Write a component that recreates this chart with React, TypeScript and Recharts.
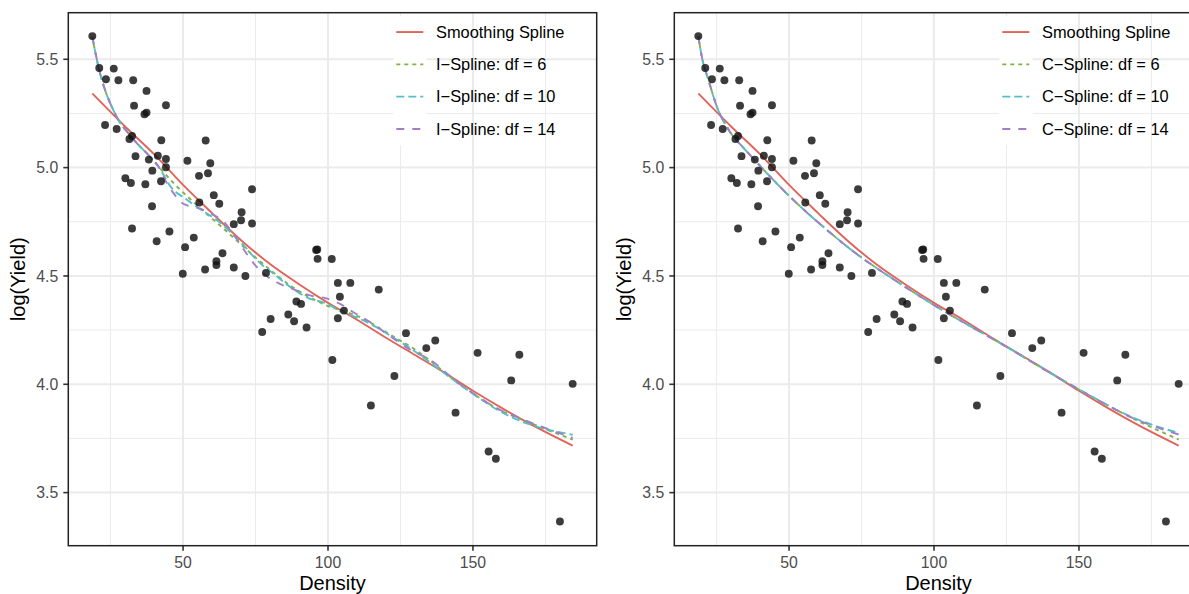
import React from 'react';
import { ComposedChart, Scatter, Line, XAxis, YAxis, ReferenceLine } from 'recharts';

// ---- observed data (Density, log(Yield)) ----
const densityValues = [
  18.7, 21.1, 26.1, 23.4, 27.7, 32.8, 37.4, 33.1, 44.1, 36.7, 37.4, 23.1, 27.1, 31.5, 32.4, 42.5, 57.8,
  33.6, 41.3, 38.2, 44.1, 44.1, 51.5, 59.4, 39.4, 55.5, 58.6, 30.1, 32.0, 37.0, 42.4, 73.8, 60.6, 62.5,
  55.6, 39.3, 70.2, 70.0, 67.5, 73.8, 32.4, 45.3, 40.9, 53.7, 50.7, 63.6, 61.5, 61.5, 67.5, 71.5, 49.9,
  57.6, 78.6, 95.9, 96.3, 96.4, 101.3, 103.4, 107.7, 104.1, 89.1, 90.7, 105.5, 103.4, 86.3, 88.3, 80.2,
  92.6, 77.3, 101.5, 117.5, 126.9, 133.9, 137.0, 122.9, 114.8, 151.6, 166.0, 163.2, 184.4, 144.0, 155.4,
  157.9, 180.0,
];
const logYieldValues = [
  5.607, 5.46, 5.457, 5.408, 5.403, 5.403, 5.354, 5.286, 5.288, 5.246, 5.254, 5.197, 5.178, 5.132, 5.146,
  5.126, 5.125, 5.053, 5.055, 5.037, 5.04, 5.002, 5.032, 5.02, 4.986, 4.962, 4.974, 4.951, 4.929, 4.923,
  4.937, 4.9, 4.873, 4.833, 4.839, 4.822, 4.794, 4.757, 4.739, 4.742, 4.719, 4.705, 4.66, 4.677, 4.633,
  4.605, 4.568, 4.55, 4.539, 4.5, 4.51, 4.53, 4.514, 4.62, 4.622, 4.579, 4.578, 4.468, 4.468, 4.404,
  4.382, 4.371, 4.34, 4.305, 4.322, 4.291, 4.301, 4.262, 4.241, 4.112, 4.437, 4.236, 4.167, 4.202, 4.038,
  3.902, 4.145, 4.136, 4.018, 4.002, 3.869, 3.69, 3.656, 3.367,
];

// ---- smoothing spline (both panels) ----
const smoothX = [18.7, 30, 40, 50, 60, 70, 80, 90, 100, 110, 120, 130, 140, 150, 160, 170, 184.4];
const smoothY = [5.342, 5.19, 5.062, 4.92, 4.79, 4.665, 4.555, 4.462, 4.376, 4.298, 4.215, 4.135, 4.055, 3.97, 3.89, 3.815, 3.717];

// ---- I-splines (left panel) ----
const iHeadX = [18.7, 20.8, 23.1, 25.4, 27.7, 31.1, 34.6, 38.0, 41.5];
const iHeadY = [5.604, 5.466, 5.358, 5.281, 5.22, 5.159, 5.105, 5.059, 5.005];
const iSpline6X = [47, 54, 64.5, 76, 87.5, 99, 110.5, 122, 130.6, 145.5, 158.1, 171.9, 184.4];
const iSpline6Y = [4.925, 4.836, 4.712, 4.574, 4.451, 4.367, 4.313, 4.225, 4.155, 4.0, 3.89, 3.81, 3.745];
const iSpline10X = [46.1, 50.7, 55.9, 62.2, 70.2, 76, 81.7, 87.5, 93.2, 99, 104.7, 110.5, 116.2, 122, 128.3, 136.3, 145.5, 151.3, 158.1, 165, 171.9, 184.4];
const iSpline10Y = [4.905, 4.858, 4.808, 4.752, 4.651, 4.566, 4.505, 4.444, 4.398, 4.375, 4.336, 4.305, 4.267, 4.22, 4.167, 4.09, 3.998, 3.944, 3.885, 3.838, 3.805, 3.767];
const iSpline14X = [43.8, 46.7, 50.1, 55.3, 60.4, 64.5, 67.9, 71.4, 74.8, 78.3, 82.9, 88.6, 94.4, 99, 103.6, 109.3, 115.1, 120.8, 128.3, 135.2, 145.5, 151.3, 158.1, 165, 176.6, 184.4];
const iSpline14Y = [4.943, 4.882, 4.833, 4.813, 4.782, 4.744, 4.682, 4.613, 4.551, 4.505, 4.467, 4.436, 4.408, 4.398, 4.375, 4.328, 4.282, 4.228, 4.16, 4.113, 4.0, 3.948, 3.89, 3.85, 3.79, 3.752];

// ---- C-splines (right panel) ----
const cSplineX = [18.7, 19.9, 22.2, 25.1, 29.2, 34.9, 39.7, 50.3, 63.0, 74.5, 86, 99.8, 122.8, 150, 168.7, 184.4];
const cSpline6Y = [5.607, 5.512, 5.405, 5.281, 5.174, 5.082, 5.012, 4.866, 4.713, 4.59, 4.485, 4.367, 4.19, 3.975, 3.842, 3.745];
const cSpline10Y = [5.607, 5.512, 5.405, 5.281, 5.174, 5.082, 5.012, 4.866, 4.713, 4.59, 4.485, 4.367, 4.19, 3.977, 3.846, 3.775];
const cSpline14Y = [5.607, 5.512, 5.405, 5.281, 5.174, 5.082, 5.012, 4.866, 4.713, 4.59, 4.485, 4.367, 4.19, 3.976, 3.844, 3.768];

// ---- axes ----
const xTicks = [50, 100, 150];
const xMinorTicks = [25, 75, 125, 175];
const yTicks = [3.5, 4.0, 4.5, 5.0, 5.5];
const yMinorTicks = [3.75, 4.25, 4.75, 5.25];
const xDomain: [number, number] = [10.415, 192.685];
const yDomain: [number, number] = [3.255, 5.715];

const leftLegend = ['Smoothing Spline', 'I\u2212Spline: df = 6', 'I\u2212Spline: df = 10', 'I\u2212Spline: df = 14'];
const rightLegend = ['Smoothing Spline', 'C\u2212Spline: df = 6', 'C\u2212Spline: df = 10', 'C\u2212Spline: df = 14'];

const COLORS = ['#E0645A', '#84B044', '#55BEC6', '#9F80C6'];
const DASHES = ['', '4 4', '8 4', '8 8'];

const FONT = '"Liberation Sans", Arial, Helvetica, sans-serif';
const W = 600;
const H = 594;
const PL = 68.3;
const PT = 12.7;
const PR = 596.7;
const PB = 545.7;
const LW = 1.9;

const zip = (xs: number[], ys: number[]) => xs.map((x, i) => ({ x, y: ys[i] }));
const points = zip(densityValues, logYieldValues);
const smoothData = zip(smoothX, smoothY);

const leftCurves = [
  smoothData,
  zip([...iHeadX, ...iSpline6X], [...iHeadY, ...iSpline6Y]),
  zip([...iHeadX, ...iSpline10X], [...iHeadY, ...iSpline10Y]),
  zip([...iHeadX, ...iSpline14X], [...iHeadY, ...iSpline14Y]),
];
const rightCurves = [
  smoothData,
  zip(cSplineX, cSpline6Y),
  zip(cSplineX, cSpline10Y),
  zip(cSplineX, cSpline14Y),
];

const Dot = (p: any) => (
  <circle cx={p.cx} cy={p.cy} r={3.95} fill="#111" fillOpacity={0.82} />
);

const XTitle = (props: any) => {
  const vb = props.viewBox || { x: PL, width: PR - PL };
  return (
    <text x={vb.x + vb.width / 2} y={590} textAnchor="middle" fontSize={20} fill="#000" fontFamily={FONT}>
      Density
    </text>
  );
};

const YTitle = () => (
  <text
    transform={`translate(25, ${(PT + PB) / 2}) rotate(-90)`}
    textAnchor="middle"
    fontSize={20}
    fill="#000"
    fontFamily={FONT}
  >
    log(Yield)
  </text>
);

function Panel({ left, curves, labels }: { left: number; curves: { x: number; y: number }[][]; labels: string[] }) {
  return (
    <div style={{ position: 'absolute', left, top: 0, width: W, height: H }}>
      <ComposedChart
        width={W}
        height={H}
        margin={{ top: PT, right: W - PR, bottom: 0, left: 0 }}
        style={{ fontFamily: FONT }}
      >
        <XAxis
          type="number"
          dataKey="x"
          domain={xDomain}
          allowDataOverflow
          ticks={xTicks}
          interval={0}
          height={H - PB}
          tickSize={5}
          tickMargin={6}
          axisLine={false}
          tickLine={{ stroke: '#333', strokeWidth: 1.6 }}
          tick={{ fill: '#4D4D4D', fontSize: 15.8, fontFamily: FONT }}
          label={<XTitle />}
        />
        <YAxis
          type="number"
          dataKey="y"
          domain={yDomain}
          allowDataOverflow
          ticks={yTicks}
          interval={0}
          width={PL}
          tickSize={5}
          tickMargin={5}
          axisLine={false}
          tickLine={{ stroke: '#333', strokeWidth: 1.6 }}
          tick={{ fill: '#4D4D4D', fontSize: 15.8, fontFamily: FONT }}
          tickFormatter={(v: number) => v.toFixed(1)}
          label={<YTitle />}
        />
        {xMinorTicks.map((v) => (
          <ReferenceLine key={'xm' + v} x={v} stroke="#EBEBEB" strokeWidth={1} />
        ))}
        {yMinorTicks.map((v) => (
          <ReferenceLine key={'ym' + v} y={v} stroke="#EBEBEB" strokeWidth={1} />
        ))}
        {xTicks.map((v) => (
          <ReferenceLine key={'xM' + v} x={v} stroke="#EBEBEB" strokeWidth={2} />
        ))}
        {yTicks.map((v) => (
          <ReferenceLine key={'yM' + v} y={v} stroke="#EBEBEB" strokeWidth={2} />
        ))}
        <Scatter data={points} dataKey="y" shape={Dot} isAnimationActive={false} />
        {curves.map((c, i) => (
          <Line
            key={'c' + i}
            data={c}
            dataKey="y"
            type="monotone"
            stroke={COLORS[i]}
            strokeWidth={LW}
            strokeDasharray={DASHES[i] || undefined}
            dot={false}
            activeDot={false}
            isAnimationActive={false}
          />
        ))}
      </ComposedChart>
      <svg
        width={W}
        height={H}
        style={{ position: 'absolute', left: 0, top: 0, pointerEvents: 'none' }}
      >
        <rect x={PL} y={PT} width={PR - PL} height={PB - PT} fill="none" stroke="#222" strokeWidth={1.5} />
        {labels.map((lab, i) => {
          const top = 15.9 + i * 32.3;
          const cy = top + 16.15;
          return (
            <g key={lab}>
              <rect x={393.3} y={top} width={33.4} height={32.3} fill="#fff" />
              <line
                x1={396.3}
                x2={423.3}
                y1={cy}
                y2={cy}
                stroke={COLORS[i]}
                strokeWidth={LW}
                strokeDasharray={DASHES[i] || undefined}
              />
              <text x={436} y={cy + 5.8} fontSize={16.4} fill="#000" fontFamily={FONT}>
                {lab}
              </text>
            </g>
          );
        })}
      </svg>
    </div>
  );
}

export default function App() {
  return (
    <div
      style={{
        position: 'absolute',
        left: 0,
        top: 0,
        width: 1189,
        height: 594,
        overflow: 'hidden',
        background: '#fff',
      }}
    >
      <Panel left={0} curves={leftCurves} labels={leftLegend} />
      <Panel left={606.4} curves={rightCurves} labels={rightLegend} />
    </div>
  );
}
